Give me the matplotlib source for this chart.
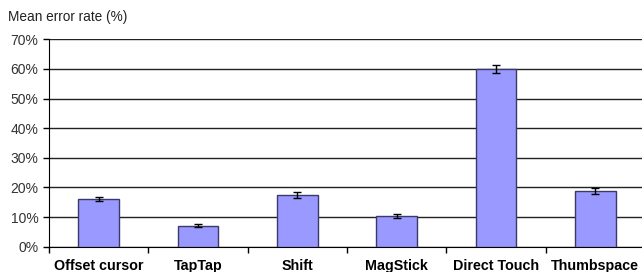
import matplotlib
matplotlib.use("Agg")
import matplotlib.pyplot as plt
from matplotlib.ticker import FuncFormatter, MultipleLocator

categories = ["Offset cursor", "TapTap", "Shift", "MagStick", "Direct Touch", "Thumbspace"]
values = [16.1, 7.0, 17.4, 10.4, 59.9, 18.9]
errors = [0.8, 0.5, 1.0, 0.6, 1.3, 1.0]

plt.rcParams['font.family'] = ['Liberation Sans', 'DejaVu Sans']

fig = plt.figure(figsize=(6.42, 2.72), dpi=100)
ax = fig.add_axes([49/642, 1 - 246.7/272, (645 - 49)/642, (246.7 - 39.3)/272])

x = list(range(len(categories)))
ax.bar(x, values, width=0.41, color='#9999FF', edgecolor='#3a3a6a', linewidth=1.0, zorder=3)
ax.errorbar(x, values, yerr=errors, fmt='none', ecolor='black', elinewidth=1.0,
            capsize=3, capthick=1.0, zorder=4)

ax.set_xlim(-0.5, len(categories) - 0.5)
ax.set_ylim(0, 70)
ax.yaxis.set_major_locator(MultipleLocator(10))
ax.yaxis.set_major_formatter(FuncFormatter(lambda v, p: f"{int(v)}%"))
ax.grid(axis='y', color='#222222', linewidth=1.0, zorder=0)
ax.set_axisbelow(True)

ax.set_xticks([i + 0.5 for i in range(-1, len(categories))], minor=False)
ax.set_xticklabels([])
ax.set_xticks(x, minor=True)
ax.set_xticklabels(categories, minor=True, fontsize=10.3, fontweight='bold')
ax.tick_params(axis='x', which='minor', length=0, pad=8.5)
ax.tick_params(axis='x', which='major', length=4, width=1, color='black')
ax.tick_params(axis='y', length=4, width=1, labelsize=10, labelcolor='#333333')

for s in ['top', 'right']:
    ax.spines[s].set_visible(False)
ax.spines['left'].set_color('black')
ax.spines['bottom'].set_color('black')

fig.text(8/642, 1 - 17.5/272, "Mean error rate (%)", fontsize=9.8, color='#222222', va='center', ha='left')

fig.savefig("out.png", dpi=100)
